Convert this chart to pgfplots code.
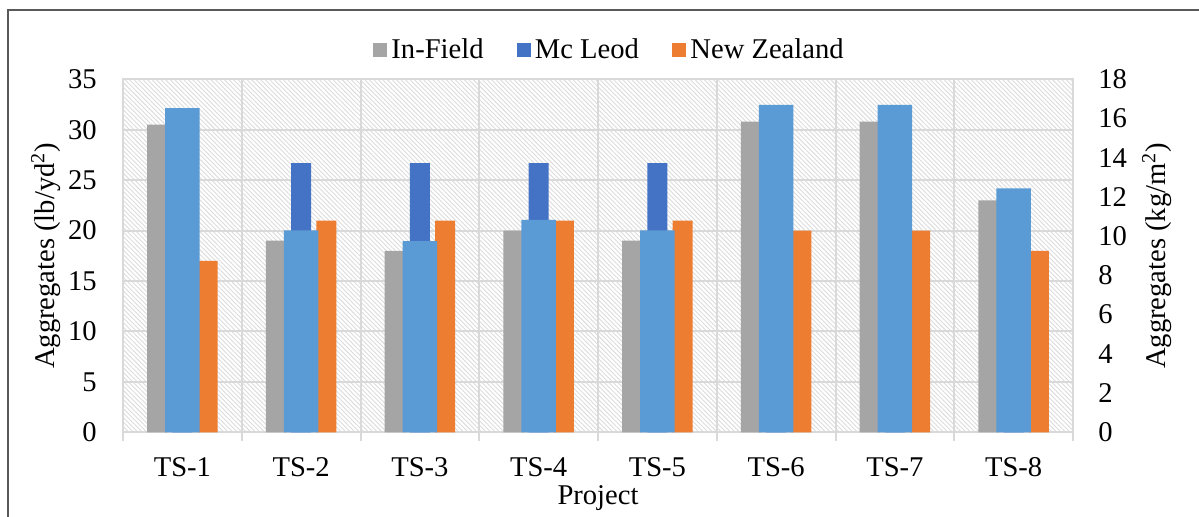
\documentclass[border=0pt]{standalone}
\usepackage{fontspec}
\setmainfont{Liberation Serif}
\usepackage{pgfplots}
\pgfplotsset{compat=1.18}
\usetikzlibrary{patterns.meta}
\definecolor{cgrey}{HTML}{A5A5A5}
\definecolor{cdblue}{HTML}{4472C4}
\definecolor{clblue}{HTML}{5B9BD5}
\definecolor{corange}{HTML}{ED7D31}
\definecolor{cgrid}{HTML}{D9D9D9}
\definecolor{chatch}{HTML}{DCDCDC}
\begin{document}
\begin{tikzpicture}[font=\fontsize{14.3}{16}\selectfont]
\path[use as bounding box] (0,0) rectangle (599.5pt,258pt);
\draw[black!65, line width=0.8pt] (3.85pt,-5pt) -- (3.85pt,253pt) -- (610pt,253pt);
\begin{axis}[
  at={(61.5pt,41.85pt)}, anchor=south west,
  scale only axis, width=475pt, height=176.5pt,
  xmin=-0.5, xmax=7.5, ymin=0, ymax=35,
  ybar,
  /pgf/number format/assume math mode=true,
  legend image code/.code={\fill[#1] (0pt,-3.6pt) rectangle (7.2pt,3.6pt);},
  axis background/.style={preaction={fill=white}, pattern={Lines[angle=-45,distance=1.6pt,line width=0.45pt]}, pattern color=chatch},
  axis line style={draw=cgrid, line width=1pt},
  ytick={0,5,...,35},
  xtick={0,...,7},
  xticklabels={TS-1,TS-2,TS-3,TS-4,TS-5,TS-6,TS-7,TS-8},
  minor xtick={-0.5,0.5,...,7.5},
  major tick length=0pt, minor tick length=4.5pt,
  tick align=outside, xtick pos=left, ytick pos=left,
  minor tick style={draw=cgrid, line width=1pt},
  xminorgrids=true, ymajorgrids=true,
  minor x grid style={draw=cgrid, line width=1pt},
  major y grid style={draw=cgrid, line width=1pt},
  xticklabel style={anchor=center, inner sep=0pt, yshift=-17.6pt},
  yticklabel style={anchor=east, inner sep=0pt, xshift=-13pt},
  xlabel={Project},
  ylabel={Aggregates (lb/yd\textsuperscript{2})},
  xlabel style={at={(axis description cs:0.5,-0.186)}, anchor=center},
  ylabel style={at={(axis description cs:-0.081,0.5)}, anchor=center},
  legend style={at={(0.513,1.083)}, anchor=center, draw=none, fill=none,
    legend columns=3, /tikz/every even column/.append style={column sep=14.5pt}},
]
\addplot[fill=cgrey, draw=none, bar width=10pt, bar shift=-12.65pt]
  coordinates {(0,30.5) (1,19) (2,18) (3,20) (4,19) (5,30.8) (6,30.8) (7,23)};
\addplot[fill=cdblue, draw=none, bar width=10pt, bar shift=0pt]
  coordinates {(0,32) (1,26.7) (2,26.7) (3,26.7) (4,26.7) (5,32.3) (6,32.3) (7,24)};
\addplot[fill=corange, draw=none, bar width=10pt, bar shift=12.65pt]
  coordinates {(0,17) (1,21) (2,21) (3,21) (4,21) (5,20) (6,20) (7,18)};
\legend{In-Field,Mc Leod,New Zealand}
\end{axis}
\begin{axis}[
  at={(61.5pt,41.85pt)}, anchor=south west,
  scale only axis, width=475pt, height=176.5pt,
  xmin=-0.5, xmax=7.5, ymin=0, ymax=18,
  ybar,
  /pgf/number format/assume math mode=true,
  axis x line=none, axis y line*=right,
  axis line style={draw=cgrid, line width=1pt},
  ytick={0,2,...,18},
  major tick length=0pt,
  yticklabel style={anchor=west, inner sep=0pt, xshift=12.5pt},
  ylabel={Aggregates (kg/m\textsuperscript{2})},
  ylabel style={at={(axis description cs:1.0884,0.5)}, anchor=center, rotate=0},
]
\addplot[fill=clblue, draw=none, bar width=17.15pt, bar shift=0pt]
  coordinates {(0,16.53) (1,10.3) (2,9.75) (3,10.83) (4,10.3) (5,16.69) (6,16.69) (7,12.44)};
\end{axis}
\end{tikzpicture}
\end{document}
